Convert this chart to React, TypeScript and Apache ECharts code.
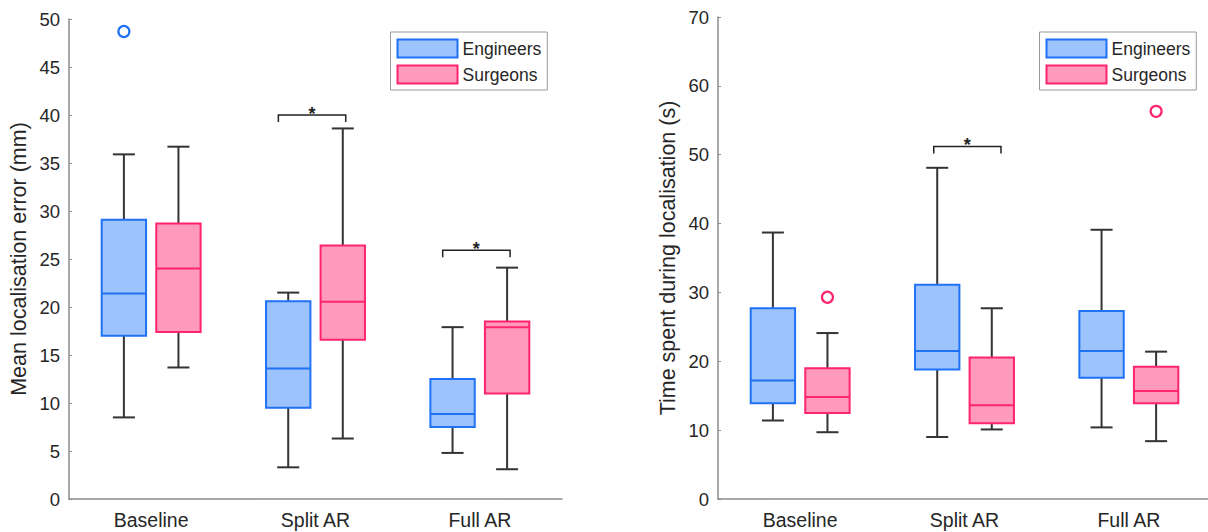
import React, { useEffect, useRef } from 'react';
import * as echarts from 'echarts';

// ---------- data ----------
const categories = ['Baseline', 'Split AR', 'Full AR'];
const groupNames = ['Engineers', 'Surgeons'];

// rows: [low whisker, Q1, median, Q3, high whisker] per category
const errorEngineers = [
  [8.5, 17.0, 21.4, 29.1, 35.9],
  [3.3, 9.5, 13.6, 20.6, 21.5],
  [4.8, 7.5, 8.85, 12.5, 17.9],
];
const errorSurgeons = [
  [13.7, 17.4, 24.0, 28.7, 36.7],
  [6.3, 16.6, 20.55, 26.4, 38.6],
  [3.1, 11.0, 17.9, 18.5, 24.1],
];
// [category index, value]
const errorOutliersEngineers = [[0, 48.7]];
const errorOutliersSurgeons: number[][] = [];
// [category index, bracket height]
const errorSignificance = [[1, 40.0], [2, 25.9]];

const timeEngineers = [
  [11.4, 13.9, 17.2, 27.7, 38.7],
  [9.0, 18.8, 21.5, 31.1, 48.1],
  [10.4, 17.6, 21.5, 27.3, 39.1],
];
const timeSurgeons = [
  [9.7, 12.5, 14.8, 19.0, 24.1],
  [10.1, 11.0, 13.6, 20.55, 27.7],
  [8.4, 13.9, 15.7, 19.2, 21.4],
];
const timeOutliersEngineers: number[][] = [];
const timeOutliersSurgeons = [[0, 29.3], [2, 56.3]];
const timeSignificance = [[1, 51.2]];

const errorAxis = { min: 0, max: 50, interval: 5, name: 'Mean localisation error (mm)' };
const timeAxis = { min: 0, max: 70, interval: 10, name: 'Time spent during localisation (s)' };

// ---------- styles ----------
const FONT = 'Liberation Sans, Arial, Helvetica, sans-serif';
const TEXT = '#262626';
const AXIS = '#8c8c8c';
const WHISKER = '#333333';
const ENG_FILL = '#9cc3fb';
const ENG_STROKE = '#1f72f5';
const SUR_FILL = '#ff9abd';
const SUR_STROKE = '#ff2470';
const OFFSET_FRAC = 0.166;
const BOX_FRAC = 0.27;
const CAP_FRAC = 0.134;

function boxRenderer(offsetFrac: number, stroke: string, fill: string) {
  return (params: any, api: any) => {
    const cat = api.value(0);
    const band = api.size([1, 0])[0];
    const cx = api.coord([cat, 0])[0] + offsetFrac * band;
    const w = BOX_FRAC * band;
    const cap = CAP_FRAC * band;
    const y = (i: number) => api.coord([cat, api.value(i)])[1];
    const yLow = y(1), yQ1 = y(2), yMed = y(3), yQ3 = y(4), yHigh = y(5);
    const ws = { stroke: WHISKER, lineWidth: 2 };
    return {
      type: 'group',
      children: [
        { type: 'line', shape: { x1: cx, y1: yHigh, x2: cx, y2: yQ3 }, style: ws },
        { type: 'line', shape: { x1: cx, y1: yQ1, x2: cx, y2: yLow }, style: ws },
        { type: 'line', shape: { x1: cx - cap / 2, y1: yHigh, x2: cx + cap / 2, y2: yHigh }, style: ws },
        { type: 'line', shape: { x1: cx - cap / 2, y1: yLow, x2: cx + cap / 2, y2: yLow }, style: ws },
        {
          type: 'rect',
          shape: { x: cx - w / 2, y: yQ3, width: w, height: yQ1 - yQ3 },
          style: { fill, stroke, lineWidth: 2 },
        },
        {
          type: 'line',
          shape: { x1: cx - w / 2, y1: yMed, x2: cx + w / 2, y2: yMed },
          style: { stroke, lineWidth: 2 },
        },
      ],
    };
  };
}

function outlierRenderer(offsetFrac: number, stroke: string) {
  return (params: any, api: any) => {
    const cat = api.value(0);
    const band = api.size([1, 0])[0];
    const p = api.coord([cat, api.value(1)]);
    return {
      type: 'circle',
      shape: { cx: p[0] + offsetFrac * band, cy: p[1], r: 5.5 },
      style: { fill: '#ffffff', stroke, lineWidth: 2.2 },
    };
  };
}

function bracketRenderer(leftFrac: number, rightFrac: number) {
  return (params: any, api: any) => {
    const cat = api.value(0);
    const band = api.size([1, 0])[0];
    const p = api.coord([cat, api.value(1)]);
    const x1 = p[0] + leftFrac * band;
    const x2 = p[0] + rightFrac * band;
    const yy = p[1];
    return {
      type: 'group',
      children: [
        {
          type: 'polyline',
          shape: { points: [[x1, yy + 7], [x1, yy], [x2, yy], [x2, yy + 7]] },
          style: { stroke: '#222222', lineWidth: 1.5, fill: 'none' },
        },
        {
          type: 'text',
          style: {
            text: '*',
            x: (x1 + x2) / 2,
            y: yy - 1,
            align: 'center',
            verticalAlign: 'middle',
            fontSize: 18,
            fontWeight: 'bold',
            fontFamily: FONT,
            fill: '#222222',
          },
        },
      ],
    };
  };
}

function panelSeries(
  gridIndex: number,
  eng: number[][],
  sur: number[][],
  engOut: number[][],
  surOut: number[][],
  sig: number[][],
  bracket: [number, number]
) {
  const common = { type: 'custom', xAxisIndex: gridIndex, yAxisIndex: gridIndex, silent: true, clip: false };
  return [
    {
      ...common,
      name: groupNames[0],
      itemStyle: { color: ENG_FILL, borderColor: ENG_STROKE },
      encode: { x: 0, y: [1, 2, 3, 4, 5] },
      data: eng.map((r, i) => [i, ...r]),
      renderItem: boxRenderer(-OFFSET_FRAC, ENG_STROKE, ENG_FILL),
    },
    {
      ...common,
      name: groupNames[1],
      itemStyle: { color: SUR_FILL, borderColor: SUR_STROKE },
      encode: { x: 0, y: [1, 2, 3, 4, 5] },
      data: sur.map((r, i) => [i, ...r]),
      renderItem: boxRenderer(OFFSET_FRAC, SUR_STROKE, SUR_FILL),
    },
    {
      ...common,
      name: groupNames[0],
      itemStyle: { color: ENG_FILL, borderColor: ENG_STROKE },
      encode: { x: 0, y: 1 },
      data: engOut,
      renderItem: outlierRenderer(-OFFSET_FRAC, ENG_STROKE),
    },
    {
      ...common,
      name: groupNames[1],
      itemStyle: { color: SUR_FILL, borderColor: SUR_STROKE },
      encode: { x: 0, y: 1 },
      data: surOut,
      renderItem: outlierRenderer(OFFSET_FRAC, SUR_STROKE),
    },
    {
      ...common,
      encode: { x: 0, y: 1 },
      data: sig,
      renderItem: bracketRenderer(bracket[0], bracket[1]),
    },
  ];
}

function xAxisFor(gridIndex: number) {
  return {
    type: 'category',
    gridIndex,
    data: categories,
    boundaryGap: true,
    axisLine: { lineStyle: { color: AXIS, width: 1.5 } },
    axisTick: { alignWithLabel: true, inside: true, length: 3, lineStyle: { color: AXIS, width: 1 } },
    axisLabel: { fontSize: 19.5, color: TEXT, fontFamily: FONT, margin: 11 },
    splitLine: { show: false },
  };
}

function yAxisFor(gridIndex: number, a: { min: number; max: number; interval: number; name: string }) {
  return {
    type: 'value',
    gridIndex,
    min: a.min,
    max: a.max,
    interval: a.interval,
    name: a.name,
    nameLocation: 'middle',
    nameGap: 39,
    nameTextStyle: { fontSize: 21.5, color: TEXT, fontFamily: FONT },
    axisLine: { show: true, lineStyle: { color: AXIS, width: 1.5 } },
    axisTick: { show: true, inside: true, length: 3, lineStyle: { color: AXIS, width: 1 } },
    axisLabel: { fontSize: 18.5, color: TEXT, fontFamily: FONT, margin: 9 },
    splitLine: { show: false },
  };
}

function legendFor(left: number) {
  return {
    left,
    top: 32,
    orient: 'vertical',
    icon: 'rect',
    itemWidth: 60,
    itemHeight: 18,
    itemGap: 6,
    padding: [6.5, 6, 5.5, 6],
    borderColor: '#9a9a9a',
    borderWidth: 1,
    borderRadius: 0,
    backgroundColor: '#ffffff',
    selectedMode: false,
    textStyle: { fontSize: 17.5, color: TEXT, fontFamily: FONT },
    data: [
      { name: groupNames[0], itemStyle: { color: ENG_FILL, borderColor: ENG_STROKE, borderWidth: 2 } },
      { name: groupNames[1], itemStyle: { color: SUR_FILL, borderColor: SUR_STROKE, borderWidth: 2 } },
    ],
  };
}

export default function App() {
  const ref = useRef<HTMLDivElement>(null);
  useEffect(() => {
    document.body.style.margin = '0';
    if (!ref.current) return;
    const chart = echarts.init(ref.current, null, { renderer: 'svg' });
    chart.setOption({
      animation: false,
      backgroundColor: '#ffffff',
      grid: [
        { left: 69, top: 19, width: 493, height: 480, outerBoundsMode: 'none', containLabel: false },
        { left: 718, top: 17, width: 493, height: 482, outerBoundsMode: 'none', containLabel: false },
      ],
      xAxis: [xAxisFor(0), xAxisFor(1)],
      yAxis: [yAxisFor(0, errorAxis), yAxisFor(1, timeAxis)],
      legend: [legendFor(390.5), legendFor(1039.5)],
      series: [
        ...panelSeries(0, errorEngineers, errorSurgeons, errorOutliersEngineers, errorOutliersSurgeons, errorSignificance, [-0.226, 0.184]),
        ...panelSeries(1, timeEngineers, timeSurgeons, timeOutliersEngineers, timeOutliersSurgeons, timeSignificance, [-0.187, 0.222]),
      ],
    });
    return () => chart.dispose();
  }, []);
  return <div ref={ref} style={{ width: 1208, height: 532 }} />;
}
